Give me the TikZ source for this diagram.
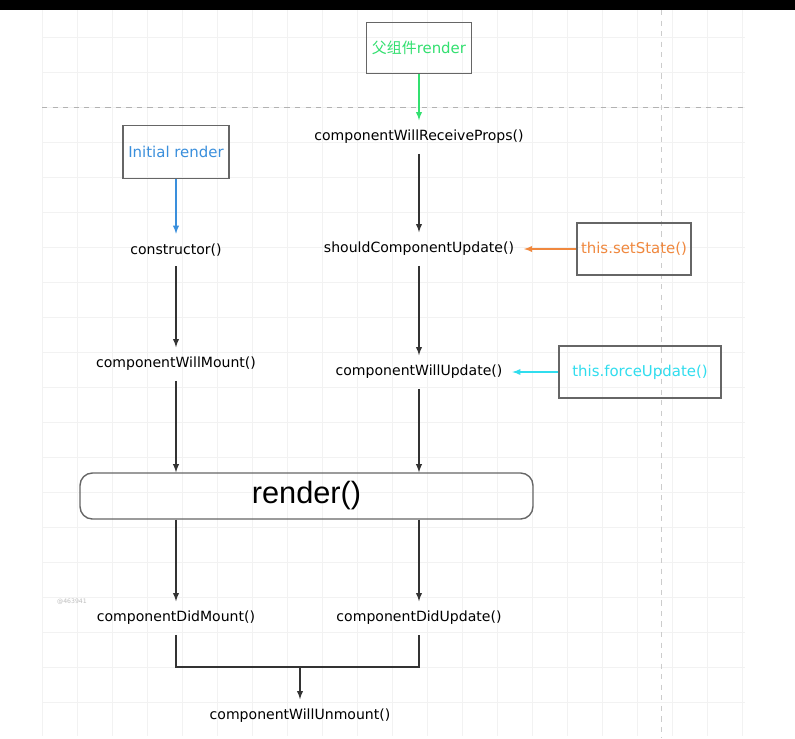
\documentclass[tikz,border=0pt]{standalone}
\usepackage{fontspec}
\setmainfont{DejaVu Sans}
\newfontfamily\cjkfont{Noto Sans CJK SC}
\newfontfamily\arialfont{Liberation Sans}
\usepackage{tikz}
\usetikzlibrary{arrows}
\definecolor{parentgreen}{HTML}{33E070}
\definecolor{initblue}{HTML}{3A8FDC}
\definecolor{stateorange}{HTML}{F0883E}
\definecolor{forcecyan}{HTML}{30DDEE}
\definecolor{boxgray}{HTML}{666666}

\begin{document}
\begin{tikzpicture}[x=0.02cm, y=-0.02cm]
\tikzset{box/.style = {draw=boxgray, line width=0.9pt, inner sep=0pt, font=\fontsize{8.5}{10}\selectfont}}
\tikzset{lbl/.style = {inner sep=5.5pt, text=black, font=\fontsize{8}{10}\selectfont}}
\tikzset{arr/.style = {draw=black!80, line width=0.6pt, -latex}}
\useasboundingbox (0,0) rectangle (795,738);
\fill[white] (0,0) rectangle (795,738);

% faint grid of the canvas
\foreach \gx in {42,77,...,745}
    \draw[black!5, line width=0.4pt] (\gx,10) -- (\gx,736);
\foreach \gy in {37,72,...,736}
    \draw[black!5, line width=0.4pt] (42,\gy) -- (745,\gy);
\draw[black!30, dashed, line width=0.5pt] (42,107) -- (745,107);
\draw[black!20, dashed, line width=0.5pt] (661,10) -- (661,738);
\fill[black] (0,0) rectangle (795,10);
\node[text=black!25, font=\fontsize{3.5}{4}\selectfont] (mark) at (72,602) {@463941};

% trigger boxes
\node[box, minimum width=2.1cm, minimum height=1.02cm, text=parentgreen] (parent) at (419,48) {{\cjkfont 父组件}render};
\node[box, minimum width=2.12cm, minimum height=1.06cm, text=initblue] (init) at (176,152) {Initial render};
\node[box, minimum width=2.28cm, minimum height=1.04cm, text=stateorange] (setState) at (634,249) {this.setState()};
\node[box, minimum width=3.24cm, minimum height=1.04cm, text=forcecyan] (forceUpd) at (640,372) {this.forceUpdate()};

% lifecycle methods
\node[lbl] (ctor) at (176,250) {constructor()};
\node[lbl] (willMount) at (176,364) {componentWillMount()};
\node[lbl] (willRecv) at (419,137) {componentWillReceiveProps()};
\node[lbl] (shouldUpd) at (419,249) {shouldComponentUpdate()};
\node[lbl] (willUpd) at (419,372) {componentWillUpdate()};
\node[draw=boxgray, line width=0.8pt, rounded corners=7pt, minimum width=9.06cm, minimum height=0.92cm, font=\arialfont\fontsize{17.5}{20}\selectfont] (render) at (306.5,496) {render()};
\node[lbl] (didMount) at (176,618) {componentDidMount()};
\node[lbl] (didUpd) at (419,618) {componentDidUpdate()};
\node[lbl] (willUnmount) at (300,716) {componentWillUnmount()};
\coordinate (join) at (300,667);

% connectors
\draw[arr, draw=parentgreen] (parent) -- (willRecv);
\draw[arr, draw=initblue] (init) -- (ctor);
\draw[arr, draw=stateorange] (setState) -- (shouldUpd);
\draw[arr, draw=forcecyan] (forceUpd) -- (willUpd);
\draw[arr] (ctor) -- (willMount);
\draw[arr] (willMount) -- (willMount |- render.north);
\draw[arr] (willRecv) -- (shouldUpd);
\draw[arr] (shouldUpd) -- (willUpd);
\draw[arr] (willUpd) -- (willUpd |- render.north);
\draw[arr] (render.south -| didMount) -- (didMount);
\draw[arr] (render.south -| didUpd) -- (didUpd);
\draw[black!80, line width=0.6pt] (didMount) |- (join) -| (didUpd);
\draw[arr] (join) -- (willUnmount);
\end{tikzpicture}
\end{document}
